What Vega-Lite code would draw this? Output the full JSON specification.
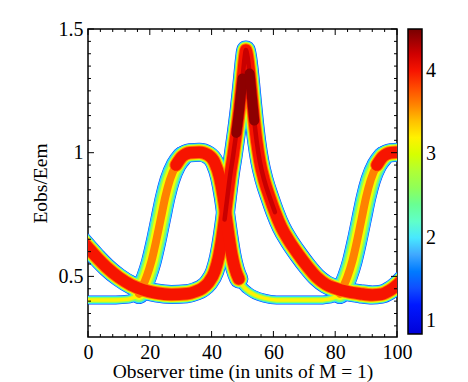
{
"$schema":"https://vega.github.io/schema/vega-lite/v6.json",
"width":309,"height":308,
"autosize":{"type":"none"},
"padding":{"left":88,"top":29,"right":71,"bottom":45},
"background":"white",
"config":{"view":{"stroke":"black","strokeWidth":1.5},"axis":{"labelColor":"black","labelFont":"Liberation Serif","labelFontSize":20,"titleFont":"Liberation Serif","titleFontSize":19.5,"titleFontWeight":"normal","titleColor":"black","labelFlush":false,"labelOverlap":false}},
"resolve":{"axis":{"x":"independent","y":"independent"}},
"datasets":{
"xticks":[{"xt":0,"k":"M"},{"xt":4,"k":"m"},{"xt":8,"k":"m"},{"xt":12,"k":"m"},{"xt":16,"k":"m"},{"xt":20,"k":"M"},{"xt":24,"k":"m"},{"xt":28,"k":"m"},{"xt":32,"k":"m"},{"xt":36,"k":"m"},{"xt":40,"k":"M"},{"xt":44,"k":"m"},{"xt":48,"k":"m"},{"xt":52,"k":"m"},{"xt":56,"k":"m"},{"xt":60,"k":"M"},{"xt":64,"k":"m"},{"xt":68,"k":"m"},{"xt":72,"k":"m"},{"xt":76,"k":"m"},{"xt":80,"k":"M"},{"xt":84,"k":"m"},{"xt":88,"k":"m"},{"xt":92,"k":"m"},{"xt":96,"k":"m"},{"xt":100,"k":"M"}],
"yticks":[{"yt":0.3,"k":"m"},{"yt":0.35,"k":"m"},{"yt":0.4,"k":"m"},{"yt":0.45,"k":"m"},{"yt":0.5,"k":"M"},{"yt":0.55,"k":"m"},{"yt":0.6,"k":"m"},{"yt":0.65,"k":"m"},{"yt":0.7,"k":"m"},{"yt":0.75,"k":"m"},{"yt":0.8,"k":"m"},{"yt":0.85,"k":"m"},{"yt":0.9,"k":"m"},{"yt":0.95,"k":"m"},{"yt":1,"k":"M"},{"yt":1.05,"k":"m"},{"yt":1.1,"k":"m"},{"yt":1.15,"k":"m"},{"yt":1.2,"k":"m"},{"yt":1.25,"k":"m"},{"yt":1.3,"k":"m"},{"yt":1.35,"k":"m"},{"yt":1.4,"k":"m"},{"yt":1.45,"k":"m"},{"yt":1.5,"k":"M"}]
},
"data":{"values":[
{"s":"B","t":-3,"E":0.66},{"s":"B","t":0,"E":0.617},{"s":"B","t":3,"E":0.575},{"s":"B","t":6,"E":0.537},{"s":"B","t":10,"E":0.496},{"s":"B","t":14,"E":0.465},{"s":"B","t":18,"E":0.445},{"s":"B","t":22,"E":0.433},{"s":"B","t":27,"E":0.427},{"s":"B","t":32,"E":0.43},{"s":"B","t":35,"E":0.44},{"s":"B","t":37,"E":0.452},{"s":"B","t":39,"E":0.475},{"s":"B","t":41,"E":0.52},{"s":"B","t":42.3,"E":0.58},{"s":"B","t":43.3,"E":0.65},{"s":"B","t":44.2,"E":0.73},{"s":"B","t":45.1,"E":0.82},{"s":"B","t":46,"E":0.91},{"s":"B","t":47,"E":0.99},{"s":"B","t":48,"E":1.08},{"s":"B","t":49,"E":1.18},{"s":"B","t":50,"E":1.3},{"s":"B","t":50.7,"E":1.385},{"s":"B","t":51.1,"E":1.415},{"s":"B","t":51.6,"E":1.39},{"s":"B","t":52.3,"E":1.32},{"s":"B","t":53,"E":1.23},{"s":"B","t":53.8,"E":1.13},{"s":"B","t":54.6,"E":1.045},{"s":"B","t":55.6,"E":0.965},{"s":"B","t":57,"E":0.89},{"s":"B","t":58.8,"E":0.82},{"s":"B","t":60.5,"E":0.76},{"s":"B","t":62.5,"E":0.7},{"s":"B","t":65,"E":0.645},{"s":"B","t":68,"E":0.59},{"s":"B","t":71,"E":0.54},{"s":"B","t":74,"E":0.497},{"s":"B","t":77,"E":0.468},{"s":"B","t":80,"E":0.452},{"s":"B","t":84,"E":0.438},{"s":"B","t":88,"E":0.43},{"s":"B","t":92,"E":0.425},{"s":"B","t":95,"E":0.428},{"s":"B","t":97.5,"E":0.442},{"s":"B","t":100,"E":0.465},{"s":"B","t":102,"E":0.49},
{"s":"A1bot","t":-3,"E":0.405},{"s":"A1bot","t":4,"E":0.405},{"s":"A1bot","t":9,"E":0.405},{"s":"A1bot","t":13,"E":0.408},{"s":"A1bot","t":16,"E":0.42},
{"s":"A1rise","t":16.5,"E":0.43},{"s":"A1rise","t":17.5,"E":0.455},{"s":"A1rise","t":19,"E":0.5},{"s":"A1rise","t":20.5,"E":0.56},{"s":"A1rise","t":22,"E":0.64},{"s":"A1rise","t":23.5,"E":0.73},{"s":"A1rise","t":25,"E":0.82},{"s":"A1rise","t":26.5,"E":0.89},{"s":"A1rise","t":28.5,"E":0.95},{"s":"A1rise","t":30.5,"E":0.985},
{"s":"A1top","t":28.5,"E":0.95},{"s":"A1top","t":30.5,"E":0.985},{"s":"A1top","t":33,"E":1.0},{"s":"A1top","t":36,"E":1.002},{"s":"A1top","t":39,"E":0.99},{"s":"A1top","t":41,"E":0.96},{"s":"A1top","t":42.6,"E":0.9},{"s":"A1top","t":43.8,"E":0.82},{"s":"A1top","t":44.7,"E":0.74},{"s":"A1top","t":45.6,"E":0.66},{"s":"A1top","t":46.5,"E":0.59},{"s":"A1top","t":47.6,"E":0.53},{"s":"A1top","t":48.8,"E":0.49},
{"s":"A2bot","t":47.6,"E":0.53},{"s":"A2bot","t":48.8,"E":0.49},{"s":"A2bot","t":50.2,"E":0.46},{"s":"A2bot","t":52,"E":0.44},{"s":"A2bot","t":54,"E":0.425},{"s":"A2bot","t":57,"E":0.412},{"s":"A2bot","t":61,"E":0.405},{"s":"A2bot","t":66,"E":0.405},{"s":"A2bot","t":71,"E":0.405},{"s":"A2bot","t":76,"E":0.405},{"s":"A2bot","t":78,"E":0.408},{"s":"A2bot","t":81,"E":0.42},
{"s":"A2rise","t":81.5,"E":0.43},{"s":"A2rise","t":82.5,"E":0.455},{"s":"A2rise","t":84,"E":0.5},{"s":"A2rise","t":85.5,"E":0.56},{"s":"A2rise","t":87,"E":0.64},{"s":"A2rise","t":88.5,"E":0.73},{"s":"A2rise","t":90,"E":0.82},{"s":"A2rise","t":91.5,"E":0.89},{"s":"A2rise","t":93.5,"E":0.95},{"s":"A2rise","t":95.5,"E":0.985},
{"s":"A2top","t":93.5,"E":0.95},{"s":"A2top","t":95.5,"E":0.985},{"s":"A2top","t":98,"E":1.0},{"s":"A2top","t":101,"E":1.002},{"s":"A2top","t":103,"E":1.0}
]},
"layer":[
{"encoding":{
"x":{"field":"t","type":"quantitative","scale":{"domain":[0,100],"nice":false,"zero":false},
"axis":{"orient":"bottom","values":[0,20,40,60,80,100],"labelPadding":5,"domain":false,"ticks":false,"grid":false,"title":"Observer time (in units of M = 1)","titlePadding":0}},
"y":{"field":"E","type":"quantitative","scale":{"domain":[0.255,1.5],"nice":false,"zero":false},
"axis":{"orient":"left","values":[0.5,1,1.5],"format":"~g","labelPadding":5,"domain":false,"ticks":false,"grid":false,"title":"Eobs/Eem","titlePadding":8}},
"detail":{"field":"s"}
},
"layer":[
{"transform":[{"filter":{"field":"s","oneOf":["B","A1top","A2top"]}}],"mark":{"type":"line","interpolate":"monotone","strokeCap":"round","strokeJoin":"round","clip":true,"strokeWidth":19},
"encoding":{
"color":{"datum":1.3,"type":"quantitative","scale":{"domain":[0.85,1.2,1.5,1.8,2.0,2.2,2.55,2.95,3.15,3.4,3.65,3.9,4.1,4.3,4.5],"range":["#0000d8","#0018ff","#2860ff","#40a8ff","#48e8ff","#60ffc8","#88ff60","#c8ff00","#ffff00","#ffc000","#ff7000","#ff2000","#f00000","#b00000","#780000"]},
"legend":{"orient":"none","legendX":320,"legendY":0,"direction":"vertical","gradientLength":305,"gradientThickness":14,"title":null,"values":[1,2,3,4],"format":"d","labelFont":"Liberation Serif","labelFontSize":20,"labelColor":"black","labelOffset":4,"gradientStrokeColor":"black","gradientStrokeWidth":1.5,"padding":0,"labelOverlap":false}}}},
{"transform":[{"filter":{"field":"s","oneOf":["A1rise","A2rise"]}}],"mark":{"type":"line","interpolate":"monotone","strokeCap":"round","strokeJoin":"round","clip":true,"strokeWidth":20.5},
"encoding":{"color":{"datum":1.3,"type":"quantitative","scale":{"domain":[0.85,1.2,1.5,1.8,2.0,2.2,2.55,2.95,3.15,3.4,3.65,3.9,4.1,4.3,4.5],"range":["#0000d8","#0018ff","#2860ff","#40a8ff","#48e8ff","#60ffc8","#88ff60","#c8ff00","#ffff00","#ffc000","#ff7000","#ff2000","#f00000","#b00000","#780000"]}}}},
{"transform":[{"filter":{"field":"s","oneOf":["A1bot","A2bot"]}}],"mark":{"type":"line","interpolate":"monotone","strokeCap":"round","strokeJoin":"round","clip":true,"strokeWidth":9},
"encoding":{"color":{"datum":1.3,"type":"quantitative","scale":{"domain":[0.85,1.2,1.5,1.8,2.0,2.2,2.55,2.95,3.15,3.4,3.65,3.9,4.1,4.3,4.5],"range":["#0000d8","#0018ff","#2860ff","#40a8ff","#48e8ff","#60ffc8","#88ff60","#c8ff00","#ffff00","#ffc000","#ff7000","#ff2000","#f00000","#b00000","#780000"]}}}},
{"transform":[{"filter":{"field":"s","oneOf":["B","A1top","A2top"]}}],"mark":{"type":"line","interpolate":"monotone","strokeCap":"round","strokeJoin":"round","clip":true,"strokeWidth":18},
"encoding":{"color":{"datum":1.95,"type":"quantitative","scale":{"domain":[0.85,1.2,1.5,1.8,2.0,2.2,2.55,2.95,3.15,3.4,3.65,3.9,4.1,4.3,4.5],"range":["#0000d8","#0018ff","#2860ff","#40a8ff","#48e8ff","#60ffc8","#88ff60","#c8ff00","#ffff00","#ffc000","#ff7000","#ff2000","#f00000","#b00000","#780000"]}}}},
{"transform":[{"filter":{"field":"s","oneOf":["A1rise","A2rise"]}}],"mark":{"type":"line","interpolate":"monotone","strokeCap":"round","strokeJoin":"round","clip":true,"strokeWidth":19.5},
"encoding":{"color":{"datum":1.95,"type":"quantitative","scale":{"domain":[0.85,1.2,1.5,1.8,2.0,2.2,2.55,2.95,3.15,3.4,3.65,3.9,4.1,4.3,4.5],"range":["#0000d8","#0018ff","#2860ff","#40a8ff","#48e8ff","#60ffc8","#88ff60","#c8ff00","#ffff00","#ffc000","#ff7000","#ff2000","#f00000","#b00000","#780000"]}}}},
{"transform":[{"filter":{"field":"s","oneOf":["A1bot","A2bot"]}}],"mark":{"type":"line","interpolate":"monotone","strokeCap":"round","strokeJoin":"round","clip":true,"strokeWidth":8},
"encoding":{"color":{"datum":1.95,"type":"quantitative","scale":{"domain":[0.85,1.2,1.5,1.8,2.0,2.2,2.55,2.95,3.15,3.4,3.65,3.9,4.1,4.3,4.5],"range":["#0000d8","#0018ff","#2860ff","#40a8ff","#48e8ff","#60ffc8","#88ff60","#c8ff00","#ffff00","#ffc000","#ff7000","#ff2000","#f00000","#b00000","#780000"]}}}},
{"transform":[{"filter":{"field":"s","oneOf":["B","A1top","A2top"]}}],"mark":{"type":"line","interpolate":"monotone","strokeCap":"round","strokeJoin":"round","clip":true,"strokeWidth":16.5},
"encoding":{"color":{"datum":2.55,"type":"quantitative","scale":{"domain":[0.85,1.2,1.5,1.8,2.0,2.2,2.55,2.95,3.15,3.4,3.65,3.9,4.1,4.3,4.5],"range":["#0000d8","#0018ff","#2860ff","#40a8ff","#48e8ff","#60ffc8","#88ff60","#c8ff00","#ffff00","#ffc000","#ff7000","#ff2000","#f00000","#b00000","#780000"]}}}},
{"transform":[{"filter":{"field":"s","oneOf":["A1rise","A2rise"]}}],"mark":{"type":"line","interpolate":"monotone","strokeCap":"round","strokeJoin":"round","clip":true,"strokeWidth":16.5},
"encoding":{"color":{"datum":2.55,"type":"quantitative","scale":{"domain":[0.85,1.2,1.5,1.8,2.0,2.2,2.55,2.95,3.15,3.4,3.65,3.9,4.1,4.3,4.5],"range":["#0000d8","#0018ff","#2860ff","#40a8ff","#48e8ff","#60ffc8","#88ff60","#c8ff00","#ffff00","#ffc000","#ff7000","#ff2000","#f00000","#b00000","#780000"]}}}},
{"transform":[{"filter":{"field":"s","oneOf":["A1bot","A2bot"]}}],"mark":{"type":"line","interpolate":"monotone","strokeCap":"round","strokeJoin":"round","clip":true,"strokeWidth":6},
"encoding":{"color":{"datum":2.55,"type":"quantitative","scale":{"domain":[0.85,1.2,1.5,1.8,2.0,2.2,2.55,2.95,3.15,3.4,3.65,3.9,4.1,4.3,4.5],"range":["#0000d8","#0018ff","#2860ff","#40a8ff","#48e8ff","#60ffc8","#88ff60","#c8ff00","#ffff00","#ffc000","#ff7000","#ff2000","#f00000","#b00000","#780000"]}}}},
{"transform":[{"filter":{"field":"s","oneOf":["B","A1top","A2top"]}}],"mark":{"type":"line","interpolate":"monotone","strokeCap":"round","strokeJoin":"round","clip":true,"strokeWidth":15},
"encoding":{"color":{"datum":3.1,"type":"quantitative","scale":{"domain":[0.85,1.2,1.5,1.8,2.0,2.2,2.55,2.95,3.15,3.4,3.65,3.9,4.1,4.3,4.5],"range":["#0000d8","#0018ff","#2860ff","#40a8ff","#48e8ff","#60ffc8","#88ff60","#c8ff00","#ffff00","#ffc000","#ff7000","#ff2000","#f00000","#b00000","#780000"]}}}},
{"transform":[{"filter":{"field":"s","oneOf":["A1rise","A2rise"]}}],"mark":{"type":"line","interpolate":"monotone","strokeCap":"round","strokeJoin":"round","clip":true,"strokeWidth":12.5},
"encoding":{"color":{"datum":3.1,"type":"quantitative","scale":{"domain":[0.85,1.2,1.5,1.8,2.0,2.2,2.55,2.95,3.15,3.4,3.65,3.9,4.1,4.3,4.5],"range":["#0000d8","#0018ff","#2860ff","#40a8ff","#48e8ff","#60ffc8","#88ff60","#c8ff00","#ffff00","#ffc000","#ff7000","#ff2000","#f00000","#b00000","#780000"]}}}},
{"transform":[{"filter":{"field":"s","oneOf":["A1bot","A2bot"]}}],"mark":{"type":"line","interpolate":"monotone","strokeCap":"round","strokeJoin":"round","clip":true,"strokeWidth":3.5},
"encoding":{"color":{"datum":3.2,"type":"quantitative","scale":{"domain":[0.85,1.2,1.5,1.8,2.0,2.2,2.55,2.95,3.15,3.4,3.65,3.9,4.1,4.3,4.5],"range":["#0000d8","#0018ff","#2860ff","#40a8ff","#48e8ff","#60ffc8","#88ff60","#c8ff00","#ffff00","#ffc000","#ff7000","#ff2000","#f00000","#b00000","#780000"]}}}},
{"transform":[{"filter":{"field":"s","oneOf":["B","A1top","A2top"]}}],"mark":{"type":"line","interpolate":"monotone","strokeCap":"round","strokeJoin":"round","clip":true,"strokeWidth":13.5},
"encoding":{"color":{"datum":3.6,"type":"quantitative","scale":{"domain":[0.85,1.2,1.5,1.8,2.0,2.2,2.55,2.95,3.15,3.4,3.65,3.9,4.1,4.3,4.5],"range":["#0000d8","#0018ff","#2860ff","#40a8ff","#48e8ff","#60ffc8","#88ff60","#c8ff00","#ffff00","#ffc000","#ff7000","#ff2000","#f00000","#b00000","#780000"]}}}},
{"transform":[{"filter":{"field":"s","oneOf":["A1rise","A2rise"]}}],"mark":{"type":"line","interpolate":"monotone","strokeCap":"round","strokeJoin":"round","clip":true,"strokeWidth":8},
"encoding":{"color":{"datum":3.6,"type":"quantitative","scale":{"domain":[0.85,1.2,1.5,1.8,2.0,2.2,2.55,2.95,3.15,3.4,3.65,3.9,4.1,4.3,4.5],"range":["#0000d8","#0018ff","#2860ff","#40a8ff","#48e8ff","#60ffc8","#88ff60","#c8ff00","#ffff00","#ffc000","#ff7000","#ff2000","#f00000","#b00000","#780000"]}}}},
{"transform":[{"filter":{"field":"s","oneOf":["B","A1top","A2top"]}}],"mark":{"type":"line","interpolate":"monotone","strokeCap":"round","strokeJoin":"round","clip":true,"strokeWidth":11.5},
"encoding":{"color":{"datum":4.0,"type":"quantitative","scale":{"domain":[0.85,1.2,1.5,1.8,2.0,2.2,2.55,2.95,3.15,3.4,3.65,3.9,4.1,4.3,4.5],"range":["#0000d8","#0018ff","#2860ff","#40a8ff","#48e8ff","#60ffc8","#88ff60","#c8ff00","#ffff00","#ffc000","#ff7000","#ff2000","#f00000","#b00000","#780000"]}}}},
{"transform":[{"filter":{"field":"s","equal":"B"}},{"filter":{"field":"t","range":[44,61]}}],"mark":{"type":"line","interpolate":"monotone","strokeCap":"round","strokeJoin":"round","clip":true,"strokeWidth":4.5},
"encoding":{"color":{"datum":4.22,"type":"quantitative","scale":{"domain":[0.85,1.2,1.5,1.8,2.0,2.2,2.55,2.95,3.15,3.4,3.65,3.9,4.1,4.3,4.5],"range":["#0000d8","#0018ff","#2860ff","#40a8ff","#48e8ff","#60ffc8","#88ff60","#c8ff00","#ffff00","#ffc000","#ff7000","#ff2000","#f00000","#b00000","#780000"]}}}},
{"transform":[{"filter":{"field":"s","equal":"B"}},{"filter":{"field":"t","range":[47.8,50.4]}}],"mark":{"type":"line","interpolate":"monotone","strokeCap":"round","strokeJoin":"round","clip":true,"strokeWidth":10},
"encoding":{"color":{"datum":4.42,"type":"quantitative","scale":{"domain":[0.85,1.2,1.5,1.8,2.0,2.2,2.55,2.95,3.15,3.4,3.65,3.9,4.1,4.3,4.5],"range":["#0000d8","#0018ff","#2860ff","#40a8ff","#48e8ff","#60ffc8","#88ff60","#c8ff00","#ffff00","#ffc000","#ff7000","#ff2000","#f00000","#b00000","#780000"]}}}},
{"transform":[{"filter":{"field":"s","equal":"B"}},{"filter":{"field":"t","range":[51.8,54.2]}}],"mark":{"type":"line","interpolate":"monotone","strokeCap":"round","strokeJoin":"round","clip":true,"strokeWidth":10},
"encoding":{"color":{"datum":4.42,"type":"quantitative","scale":{"domain":[0.85,1.2,1.5,1.8,2.0,2.2,2.55,2.95,3.15,3.4,3.65,3.9,4.1,4.3,4.5],"range":["#0000d8","#0018ff","#2860ff","#40a8ff","#48e8ff","#60ffc8","#88ff60","#c8ff00","#ffff00","#ffc000","#ff7000","#ff2000","#f00000","#b00000","#780000"]}}}}
]},
{"data":{"name":"xticks"},
"layer":[
{"transform":[{"filter":{"field":"k","equal":"M"}}],"mark":{"type":"rule","color":"black","strokeWidth":1},"encoding":{"x":{"field":"xt","type":"quantitative","scale":{"domain":[0,100],"nice":false,"zero":false},"axis":null},"y":{"datum":0.255,"type":"quantitative","scale":{"domain":[0.255,1.5],"nice":false,"zero":false},"axis":null},"y2":{"datum":0.2793}}},
{"transform":[{"filter":{"field":"k","equal":"m"}}],"mark":{"type":"rule","color":"black","strokeWidth":1},"encoding":{"x":{"field":"xt","type":"quantitative","scale":{"domain":[0,100],"nice":false,"zero":false},"axis":null},"y":{"datum":0.255,"type":"quantitative","scale":{"domain":[0.255,1.5],"nice":false,"zero":false},"axis":null},"y2":{"datum":0.2671}}},
{"transform":[{"filter":{"field":"k","equal":"M"}}],"mark":{"type":"rule","color":"black","strokeWidth":1},"encoding":{"x":{"field":"xt","type":"quantitative","scale":{"domain":[0,100],"nice":false,"zero":false},"axis":null},"y":{"datum":1.5,"type":"quantitative","scale":{"domain":[0.255,1.5],"nice":false,"zero":false},"axis":null},"y2":{"datum":1.4757}}},
{"transform":[{"filter":{"field":"k","equal":"m"}}],"mark":{"type":"rule","color":"black","strokeWidth":1},"encoding":{"x":{"field":"xt","type":"quantitative","scale":{"domain":[0,100],"nice":false,"zero":false},"axis":null},"y":{"datum":1.5,"type":"quantitative","scale":{"domain":[0.255,1.5],"nice":false,"zero":false},"axis":null},"y2":{"datum":1.4879}}}
]},
{"data":{"name":"yticks"},
"layer":[
{"transform":[{"filter":{"field":"k","equal":"M"}}],"mark":{"type":"rule","color":"black","strokeWidth":1},"encoding":{"y":{"field":"yt","type":"quantitative","scale":{"domain":[0.255,1.5],"nice":false,"zero":false},"axis":null},"x":{"datum":0,"type":"quantitative","scale":{"domain":[0,100],"nice":false,"zero":false},"axis":null},"x2":{"datum":1.94}}},
{"transform":[{"filter":{"field":"k","equal":"m"}}],"mark":{"type":"rule","color":"black","strokeWidth":1},"encoding":{"y":{"field":"yt","type":"quantitative","scale":{"domain":[0.255,1.5],"nice":false,"zero":false},"axis":null},"x":{"datum":0,"type":"quantitative","scale":{"domain":[0,100],"nice":false,"zero":false},"axis":null},"x2":{"datum":0.97}}},
{"transform":[{"filter":{"field":"k","equal":"M"}}],"mark":{"type":"rule","color":"black","strokeWidth":1},"encoding":{"y":{"field":"yt","type":"quantitative","scale":{"domain":[0.255,1.5],"nice":false,"zero":false},"axis":null},"x":{"datum":100,"type":"quantitative","scale":{"domain":[0,100],"nice":false,"zero":false},"axis":null},"x2":{"datum":98.06}}},
{"transform":[{"filter":{"field":"k","equal":"m"}}],"mark":{"type":"rule","color":"black","strokeWidth":1},"encoding":{"y":{"field":"yt","type":"quantitative","scale":{"domain":[0.255,1.5],"nice":false,"zero":false},"axis":null},"x":{"datum":100,"type":"quantitative","scale":{"domain":[0,100],"nice":false,"zero":false},"axis":null},"x2":{"datum":99.03}}}
]}
]
}
